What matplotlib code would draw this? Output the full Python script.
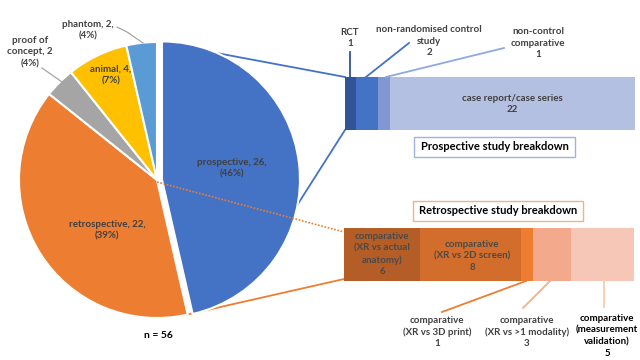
import matplotlib
matplotlib.use('Agg')
import matplotlib.pyplot as plt
from matplotlib.patches import Rectangle
import numpy as np

# ---------------- data ----------------
pie_labels = ['prospective', 'retrospective', 'proof of\nconcept', 'animal', 'phantom']
pie_values = [26, 22, 2, 4, 2]
pie_colors = ['#4472C4', '#ED7D31', '#A5A5A5', '#FFC000', '#5B9BD5']

pro_labels = ['RCT', 'non-randomised control\nstudy', 'non-control\ncomparative', 'case report/case series']
pro_values = [1, 2, 1, 22]
pro_colors = ['#2F5597', '#4472C4', '#8097D3', '#B4C0E1']

retro_labels = ['comparative\n(XR vs actual\nanatomy)', 'comparative\n(XR vs 2D screen)',
                'comparative\n(XR vs 3D print)', 'comparative\n(XR vs >1 modality)',
                'comparative\n(measurement\nvalidation)']
retro_values = [6, 8, 1, 3, 5]
retro_colors = ['#B45D26', '#D26D2B', '#ED7D31', '#F2A98C', '#F6C7B7']

# ---------------- figure ----------------
plt.rcParams['font.family'] = ['Lato', 'DejaVu Sans']
fig = plt.figure(figsize=(6.4, 3.6), dpi=100)
ax = fig.add_axes([0, 0, 1, 1])

TXT = '#404040'
FS = 7

# pie
cx, cy, R = 157, 180, 138
wedges, _ = ax.pie(pie_values, colors=pie_colors, startangle=-90, counterclock=True,
                   center=(cx, cy), radius=R, explode=[5, 0, 0, 0, 0],
                   wedgeprops=dict(edgecolor='white', linewidth=1.5), frame=True)
for w in wedges:
    w.set_zorder(3)

total = sum(pie_values)
pct = [round(v / total * 100) for v in pie_values]
pie_text = [
    f'{pie_labels[0]}, {pie_values[0]},\n({pct[0]}%)',
    f'{pie_labels[1]}, {pie_values[1]},\n({pct[1]}%)',
    f'{pie_labels[2]}, {pie_values[2]}\n({pct[2]}%)',
    f'{pie_labels[3]}, {pie_values[3]},\n({pct[3]}%)',
    f'{pie_labels[4]}, {pie_values[4]},\n({pct[4]}%)',
]
pie_pos = [(232, 168), (107, 230), (30, 52), (111, 75), (88, 30)]
for t, (x, y) in zip(pie_text, pie_pos):
    ax.text(x, y, t, ha='center', va='center', fontsize=FS, fontweight='bold',
            color=TXT, linespacing=1.35, zorder=5)
# pie leader lines
ax.plot([42, 62], [68, 82], color='#A5A5A5', lw=0.9, zorder=4)
ax.plot([117, 127, 143], [27, 32, 43], color='#A5A5A5', lw=0.9, zorder=4)

ax.text(158, 336, 'n = 56', ha='center', va='center', fontsize=7.5,
        fontweight='bold', color='black')

# ---------------- prospective bar ----------------
bx0, bw = 345, 290
pro_scale = bw / sum(pro_values)
pro_left = bx0 + np.concatenate([[0], np.cumsum(pro_values)[:-1]]) * pro_scale
ax.barh(103.5, np.array(pro_values) * pro_scale, left=pro_left, height=53,
        color=pro_colors, zorder=2)

# connector lines pie -> prospective bar
ax.plot([163, bx0], [43, 77], color='#4472C4', lw=1.3, zorder=1)
ax.plot([bx0, 275], [130, 240], color='#4472C4', lw=1.3, zorder=1)

ax.text(350, 38, f'{pro_labels[0]}\n{pro_values[0]}', ha='center', va='center',
        fontsize=FS, fontweight='bold', color=TXT, linespacing=1.35)
ax.plot([350, 350], [52, 77], color='#2F5597', lw=1.3)
ax.text(429, 41, f'{pro_labels[1]}\n{pro_values[1]}', ha='center', va='center',
        fontsize=FS, fontweight='bold', color=TXT, linespacing=1.35)
ax.plot([409, 366], [43, 77], color='#4472C4', lw=1.3)
ax.text(538, 43, f'{pro_labels[2]}\n{pro_values[2]}', ha='center', va='center',
        fontsize=FS, fontweight='bold', color=TXT, linespacing=1.35)
ax.plot([504, 386], [48, 77], color='#8EA9DB', lw=1.3)
ax.text(512, 104, f'{pro_labels[3]}\n{pro_values[3]}', ha='center', va='center',
        fontsize=FS, fontweight='bold', color=TXT, linespacing=1.35, zorder=4)

ax.add_patch(Rectangle((414, 137), 161, 20, facecolor='white', edgecolor='#9DB3E0', lw=1))
ax.text(494.5, 147, 'Prospective study breakdown', ha='center', va='center',
        fontsize=8, fontweight='bold', color='black')

# ---------------- retrospective bar ----------------
rx0, rw = 344, 290
retro_scale = rw / sum(retro_values)
retro_left = rx0 + np.concatenate([[0], np.cumsum(retro_values)[:-1]]) * retro_scale
ax.barh(254.5, np.array(retro_values) * retro_scale, left=retro_left, height=53,
        color=retro_colors, zorder=2)

# connector lines pie -> retrospective bar
ax.plot([cx, rx0], [182, 232], color='#ED7D31', lw=1.2, ls=(0, (1, 1)), zorder=4)
ax.plot([rx0, 185], [279, 315], color='#ED7D31', lw=1.3, zorder=1)

ax.text(382, 254, f'{retro_labels[0]}\n{retro_values[0]}', ha='center', va='center',
        fontsize=FS, fontweight='bold', color='#4a4a4a', linespacing=1.35, zorder=4)
ax.text(472, 256, f'{retro_labels[1]}\n{retro_values[1]}', ha='center', va='center',
        fontsize=FS, fontweight='bold', color='#4a4a4a', linespacing=1.35, zorder=4)
ax.text(437, 332, f'{retro_labels[2]}\n{retro_values[2]}', ha='center', va='center',
        fontsize=FS, fontweight='bold', color=TXT, linespacing=1.35)
ax.plot([442, 526], [312, 281], color='#ED7D31', lw=1.3)
ax.text(527, 332, f'{retro_labels[3]}\n{retro_values[3]}', ha='center', va='center',
        fontsize=FS, fontweight='bold', color=TXT, linespacing=1.35)
ax.plot([523, 550], [308, 281], color='#F4B183', lw=1.3)
ax.text(607, 336, f'{retro_labels[4]}\n{retro_values[4]}', ha='center', va='center',
        fontsize=FS, fontweight='bold', color='black', linespacing=1.35)
ax.plot([604, 604], [281, 307], color='#F8CBAD', lw=1.3)

ax.add_patch(Rectangle((413, 201), 170, 20, facecolor='white', edgecolor='#F4B183', lw=1))
ax.text(498, 211, 'Retrospective study breakdown', ha='center', va='center',
        fontsize=8, fontweight='bold', color='black')

ax.set_xlim(0, 640)
ax.set_ylim(360, 0)
ax.set_aspect('auto')
ax.axis('off')

fig.savefig('out.png', dpi=100)
